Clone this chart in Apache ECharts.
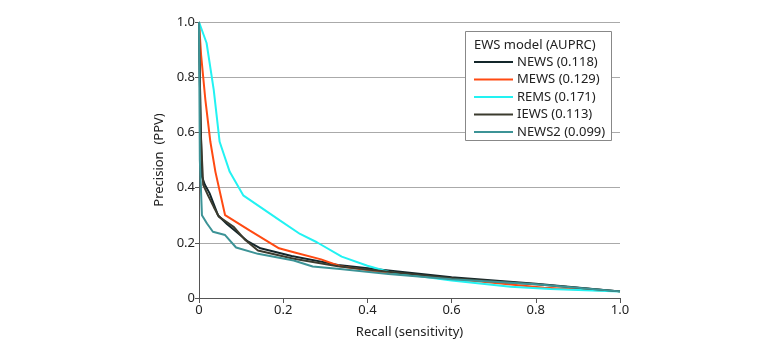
<!DOCTYPE html>
<html>
<head>
<meta charset="utf-8">
<script src="https://cdn.jsdelivr.net/npm/echarts@6/dist/echarts.min.js"></script>
<style>
  html, body { margin: 0; padding: 0; background: #fff; }
  #chart { width: 780px; height: 353px; }
</style>
</head>
<body>
<div id="chart"></div>
<script>
// precision-recall curves
const newsRecall = [0, 0.003, 0.007, 0.014, 0.025, 0.045, 0.067, 0.09, 0.116, 0.146, 0.22, 0.33, 0.45, 0.6, 0.8, 1.0];
const newsPrec = [1.0, 0.7, 0.44, 0.41, 0.38, 0.3, 0.267, 0.238, 0.205, 0.18, 0.152, 0.12, 0.1, 0.075, 0.052, 0.024];

const mewsRecall = [0, 0.005, 0.015, 0.027, 0.039, 0.062, 0.12, 0.19, 0.225, 0.29, 0.335, 0.45, 0.6, 0.82, 1.0];
const mewsPrec = [1.0, 0.88, 0.72, 0.566, 0.457, 0.3, 0.245, 0.18, 0.166, 0.14, 0.115, 0.09, 0.07, 0.037, 0.024];

const remsRecall = [0, 0.018, 0.035, 0.049, 0.073, 0.105, 0.192, 0.24, 0.28, 0.339, 0.4, 0.454, 0.6, 0.74, 0.835, 1.0];
const remsPrec = [1.0, 0.924, 0.754, 0.566, 0.457, 0.372, 0.281, 0.232, 0.202, 0.15, 0.117, 0.093, 0.063, 0.041, 0.033, 0.024];

const iewsRecall = [0, 0.004, 0.01, 0.022, 0.035, 0.047, 0.083, 0.11, 0.14, 0.225, 0.33, 0.45, 0.6, 0.8, 1.0];
const iewsPrec = [1.0, 0.6, 0.41, 0.37, 0.33, 0.295, 0.257, 0.21, 0.172, 0.142, 0.115, 0.095, 0.072, 0.05, 0.024];

const news2Recall = [0, 0.002, 0.007, 0.019, 0.033, 0.062, 0.088, 0.14, 0.225, 0.27, 0.335, 0.45, 0.6, 0.8, 1.0];
const news2Prec = [1.0, 0.5, 0.3, 0.27, 0.24, 0.228, 0.183, 0.16, 0.136, 0.114, 0.105, 0.087, 0.068, 0.05, 0.024];

const seriesNames = ["NEWS (0.118)", "MEWS (0.129)", "REMS (0.171)", "IEWS (0.113)", "NEWS2 (0.099)"];
const seriesColors = ["#13262a", "#ff4a12", "#22f2f2", "#3b3b2e", "#3c9396"];

const font = "Noto Sans";
const tickFmt = (v) => (v === 0 ? "0" : v.toFixed(1));

function pairs(xs, ys) {
  return xs.map((x, i) => [x, ys[i]]);
}

const curves = [
  pairs(newsRecall, newsPrec),
  pairs(mewsRecall, mewsPrec),
  pairs(remsRecall, remsPrec),
  pairs(iewsRecall, iewsPrec),
  pairs(news2Recall, news2Prec),
];

const chart = echarts.init(document.getElementById("chart"));
const option = {
  animation: false,
  textStyle: { fontFamily: font },
  grid: { left: 199, right: 160, top: 22, bottom: 55 },
  xAxis: {
    type: "value",
    min: 0,
    max: 1,
    interval: 0.2,
    name: "Recall (sensitivity)",
    nameLocation: "middle",
    nameGap: 28,
    nameTextStyle: { fontSize: 13, color: "#222", fontFamily: font },
    axisLine: { lineStyle: { color: "#555", width: 1 } },
    axisTick: { show: true, length: 5, lineStyle: { color: "#555" } },
    axisLabel: { formatter: tickFmt, fontSize: 13, color: "#222", margin: 6, fontFamily: font },
    splitLine: { show: false },
  },
  yAxis: {
    type: "value",
    min: 0,
    max: 1,
    interval: 0.2,
    name: "Precision  (PPV)",
    nameLocation: "middle",
    nameGap: 32,
    nameTextStyle: { fontSize: 13, color: "#222", fontFamily: font },
    axisLine: { show: true, lineStyle: { color: "#555", width: 1 } },
    axisTick: { show: true, length: 4, lineStyle: { color: "#555" } },
    axisLabel: { formatter: tickFmt, fontSize: 13, color: "#222", margin: 4, fontFamily: font },
    splitLine: { show: true, lineStyle: { color: "#aaaaaa", width: 1 } },
  },
  graphic: [
    {
      type: "rect",
      z: 3,
      shape: { x: 465.5, y: 31.5, width: 146, height: 109 },
      style: { fill: "#fff", stroke: "#888", lineWidth: 1 },
    },
    {
      type: "text",
      z: 4,
      left: 474,
      top: 39,
      style: { text: "EWS model (AUPRC)", fontSize: 13, fill: "#222", fontFamily: font },
    },
  ],
  legend: {
    orient: "vertical",
    left: 474,
    top: 55,
    padding: 0,
    itemGap: 3.5,
    itemWidth: 39,
    itemHeight: 2,
    icon: "rect",
    data: seriesNames,
    textStyle: { fontSize: 13, color: "#222", lineHeight: 14, fontFamily: font, padding: [0, 0, 0, -1] },
  },
  series: seriesNames.map((name, i) => ({
    name: name,
    type: "line",
    data: curves[i],
    showSymbol: false,
    symbol: "none",
    lineStyle: { color: seriesColors[i], width: 2 },
    itemStyle: { color: seriesColors[i] },
  })),
};
chart.setOption(option);
</script>
</body>
</html>
